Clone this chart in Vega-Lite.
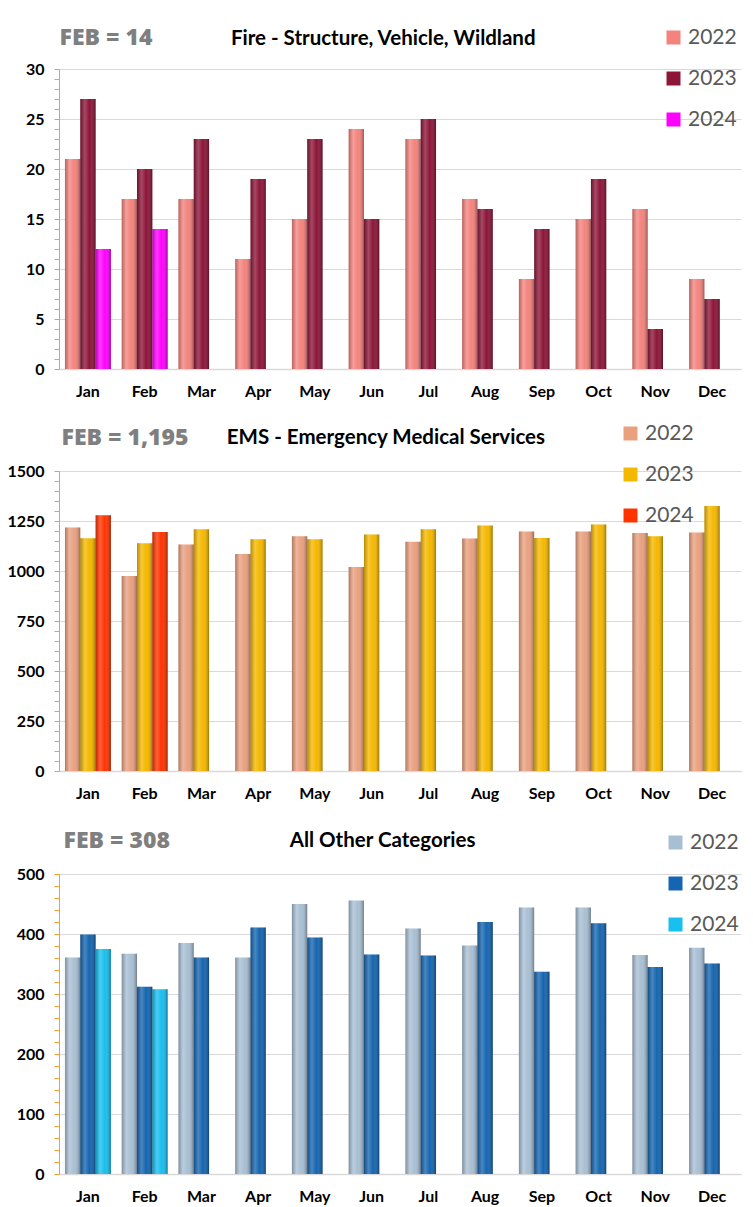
{
  "$schema": "https://vega.github.io/schema/vega-lite/v6.json",
  "background": "white",
  "padding": {"left": 6, "top": 26, "right": 5, "bottom": 5},
  "datasets": {
    "fire": [
      {"month": "Jan", "year": "2022", "value": 21}, {"month": "Jan", "year": "2023", "value": 27}, {"month": "Jan", "year": "2024", "value": 12},
      {"month": "Feb", "year": "2022", "value": 17}, {"month": "Feb", "year": "2023", "value": 20}, {"month": "Feb", "year": "2024", "value": 14},
      {"month": "Mar", "year": "2022", "value": 17}, {"month": "Mar", "year": "2023", "value": 23},
      {"month": "Apr", "year": "2022", "value": 11}, {"month": "Apr", "year": "2023", "value": 19},
      {"month": "May", "year": "2022", "value": 15}, {"month": "May", "year": "2023", "value": 23},
      {"month": "Jun", "year": "2022", "value": 24}, {"month": "Jun", "year": "2023", "value": 15},
      {"month": "Jul", "year": "2022", "value": 23}, {"month": "Jul", "year": "2023", "value": 25},
      {"month": "Aug", "year": "2022", "value": 17}, {"month": "Aug", "year": "2023", "value": 16},
      {"month": "Sep", "year": "2022", "value": 9}, {"month": "Sep", "year": "2023", "value": 14},
      {"month": "Oct", "year": "2022", "value": 15}, {"month": "Oct", "year": "2023", "value": 19},
      {"month": "Nov", "year": "2022", "value": 16}, {"month": "Nov", "year": "2023", "value": 4},
      {"month": "Dec", "year": "2022", "value": 9}, {"month": "Dec", "year": "2023", "value": 7}
    ],
    "ems": [
      {"month": "Jan", "year": "2022", "value": 1218}, {"month": "Jan", "year": "2023", "value": 1164}, {"month": "Jan", "year": "2024", "value": 1279},
      {"month": "Feb", "year": "2022", "value": 975}, {"month": "Feb", "year": "2023", "value": 1139}, {"month": "Feb", "year": "2024", "value": 1195},
      {"month": "Mar", "year": "2022", "value": 1132}, {"month": "Mar", "year": "2023", "value": 1209},
      {"month": "Apr", "year": "2022", "value": 1085}, {"month": "Apr", "year": "2023", "value": 1159},
      {"month": "May", "year": "2022", "value": 1174}, {"month": "May", "year": "2023", "value": 1159},
      {"month": "Jun", "year": "2022", "value": 1020}, {"month": "Jun", "year": "2023", "value": 1183},
      {"month": "Jul", "year": "2022", "value": 1146}, {"month": "Jul", "year": "2023", "value": 1209},
      {"month": "Aug", "year": "2022", "value": 1163}, {"month": "Aug", "year": "2023", "value": 1228},
      {"month": "Sep", "year": "2022", "value": 1197}, {"month": "Sep", "year": "2023", "value": 1165},
      {"month": "Oct", "year": "2022", "value": 1197}, {"month": "Oct", "year": "2023", "value": 1233},
      {"month": "Nov", "year": "2022", "value": 1190}, {"month": "Nov", "year": "2023", "value": 1174},
      {"month": "Dec", "year": "2022", "value": 1192}, {"month": "Dec", "year": "2023", "value": 1325}
    ],
    "other": [
      {"month": "Jan", "year": "2022", "value": 361}, {"month": "Jan", "year": "2023", "value": 399}, {"month": "Jan", "year": "2024", "value": 375},
      {"month": "Feb", "year": "2022", "value": 367}, {"month": "Feb", "year": "2023", "value": 312}, {"month": "Feb", "year": "2024", "value": 308},
      {"month": "Mar", "year": "2022", "value": 385}, {"month": "Mar", "year": "2023", "value": 361},
      {"month": "Apr", "year": "2022", "value": 361}, {"month": "Apr", "year": "2023", "value": 411},
      {"month": "May", "year": "2022", "value": 450}, {"month": "May", "year": "2023", "value": 394},
      {"month": "Jun", "year": "2022", "value": 456}, {"month": "Jun", "year": "2023", "value": 366},
      {"month": "Jul", "year": "2022", "value": 409}, {"month": "Jul", "year": "2023", "value": 364},
      {"month": "Aug", "year": "2022", "value": 381}, {"month": "Aug", "year": "2023", "value": 420},
      {"month": "Sep", "year": "2022", "value": 444}, {"month": "Sep", "year": "2023", "value": 337},
      {"month": "Oct", "year": "2022", "value": 444}, {"month": "Oct", "year": "2023", "value": 418},
      {"month": "Nov", "year": "2022", "value": 365}, {"month": "Nov", "year": "2023", "value": 345},
      {"month": "Dec", "year": "2022", "value": 377}, {"month": "Dec", "year": "2023", "value": 351}
    ]
  },
  "config": {
    "view": {"stroke": null},
    "axis": {
      "labelFont": "Lato", "labelFontWeight": "bold", "labelFontSize": 16, "labelColor": "#000000",
      "gridColor": "#d9d9d9", "gridWidth": 1
    },
    "axisX": {"ticks": false, "domainColor": "#d9d9d9", "domainWidth": 1.5, "labelPadding": 14, "labelAngle": 0, "grid": false},
    "axisY": {"domainColor": "#f0a030", "tickColor": "#f0a030", "tickSize": 5, "labelPadding": 10, "labelOverlap": false,
      "titleAngle": 0, "titleAlign": "left", "titleBaseline": "middle", "titleFont": "Open Sans", "titleFontSize": 23,
      "titleFontWeight": 800, "titleColor": "#7f7f7f"},
    "legend": {
      "orient": "none", "direction": "vertical", "title": null, "symbolType": "square", "symbolSize": 196,
      "symbolStrokeWidth": 0, "labelFont": "Lato", "labelFontSize": 21, "labelFontWeight": "normal", "labelColor": "#595959",
      "rowPadding": 19, "labelOffset": 4, "padding": 0
    },
    "title": {"font": "Lato", "fontSize": 20.5, "fontWeight": "bold", "color": "#000000", "anchor": "middle", "frame": "bounds"}
  },
  "vconcat": [
    {
      "width": 682, "height": 300,
      "title": {"text": "Fire - Structure, Vehicle, Wildland", "offset": -23},
      "data": {"name": "fire"},
      "encoding": {
        "x": {"field": "month", "type": "nominal", "title": null, "sort": ["Jan","Feb","Mar","Apr","May","Jun","Jul","Aug","Sep","Oct","Nov","Dec"],
          "scale": {"paddingInner": 0.19, "paddingOuter": 0.105}},
        "xOffset": {"field": "year", "type": "nominal", "scale": {"domain": ["2022","2023","2024"], "paddingInner": 0, "paddingOuter": 0}},
        "y": {"field": "value", "type": "quantitative", "scale": {"domain": [0, 30], "nice": false},
          "axis": {"values": [0,1,2,3,4,5,6,7,8,9,10,11,12,13,14,15,16,17,18,19,20,21,22,23,24,25,26,27,28,29,30],
            "labelExpr": "datum.value % 5 === 0 ? datum.label : ''",
            "gridOpacity": {"condition": {"test": "datum.value % 5 === 0", "value": 1}, "value": 0},
            "title": "FEB = 14", "titleX": 0, "titleY": -32}}
      },
      "layer": [
        {"mark": {"type": "bar"},
          "encoding": {"color": {"field": "year", "type": "nominal",
            "scale": {"domain": ["2022","2023","2024"], "range": ["#f4837d", "#8c1538", "#ff00ff"]},
            "legend": {"legendX": 604, "legendY": -42}}}},
        {"mark": {"type": "bar", "fill": {"gradient": "linear", "x1": 0, "y1": 0, "x2": 1, "y2": 0,
          "stops": [{"offset": 0, "color": "rgba(0,0,0,0.25)"}, {"offset": 0.3, "color": "rgba(255,255,255,0.22)"},
                    {"offset": 0.6, "color": "rgba(255,255,255,0)"}, {"offset": 1, "color": "rgba(0,0,0,0.35)"}]}},
          "encoding": {}}
      ]
    },
    {
      "width": 682, "height": 300,
      "title": {"text": "EMS - Emergency Medical Services", "offset": -25, "dx": 12},
      "data": {"name": "ems"},
      "encoding": {
        "x": {"field": "month", "type": "nominal", "sort": ["Jan","Feb","Mar","Apr","May","Jun","Jul","Aug","Sep","Oct","Nov","Dec"],
          "scale": {"paddingInner": 0.19, "paddingOuter": 0.105},
          "axis": {"title": "\u00a0", "titleFontSize": 4, "titlePadding": 0}},
        "xOffset": {"field": "year", "type": "nominal", "scale": {"domain": ["2022","2023","2024"], "paddingInner": 0, "paddingOuter": 0}},
        "y": {"field": "value", "type": "quantitative", "scale": {"domain": [0, 1500], "nice": false},
          "axis": {"values": [0,50,100,150,200,250,300,350,400,450,500,550,600,650,700,750,800,850,900,950,1000,1050,1100,1150,1200,1250,1300,1350,1400,1450,1500],
            "format": "d",
            "labelExpr": "datum.value % 250 === 0 ? datum.label : ''",
            "gridOpacity": {"condition": {"test": "datum.value % 250 === 0", "value": 1}, "value": 0},
            "title": "FEB = 1,195", "titleX": 2, "titleY": -34}}
      },
      "layer": [
        {"mark": {"type": "bar"},
          "encoding": {"color": {"field": "year", "type": "nominal",
            "scale": {"domain": ["2022","2023","2024"], "range": ["#e9a07f", "#f5b800", "#ff3300"]},
            "legend": {"legendX": 561, "legendY": -48}}}},
        {"mark": {"type": "bar", "fill": {"gradient": "linear", "x1": 0, "y1": 0, "x2": 1, "y2": 0,
          "stops": [{"offset": 0, "color": "rgba(0,0,0,0.25)"}, {"offset": 0.3, "color": "rgba(255,255,255,0.22)"},
                    {"offset": 0.6, "color": "rgba(255,255,255,0)"}, {"offset": 1, "color": "rgba(0,0,0,0.35)"}]}},
          "encoding": {}}
      ]
    },
    {
      "width": 682, "height": 300,
      "title": {"text": "All Other Categories", "offset": -22, "dx": 4},
      "data": {"name": "other"},
      "encoding": {
        "x": {"field": "month", "type": "nominal", "title": null, "sort": ["Jan","Feb","Mar","Apr","May","Jun","Jul","Aug","Sep","Oct","Nov","Dec"],
          "scale": {"paddingInner": 0.19, "paddingOuter": 0.105}},
        "xOffset": {"field": "year", "type": "nominal", "scale": {"domain": ["2022","2023","2024"], "paddingInner": 0, "paddingOuter": 0}},
        "y": {"field": "value", "type": "quantitative", "scale": {"domain": [0, 500], "nice": false},
          "axis": {"values": [0,20,40,60,80,100,120,140,160,180,200,220,240,260,280,300,320,340,360,380,400,420,440,460,480,500],
            "labelExpr": "datum.value % 100 === 0 ? datum.label : ''",
            "gridOpacity": {"condition": {"test": "datum.value % 100 === 0", "value": 1}, "value": 0},
            "title": "FEB = 308", "titleX": 4, "titleY": -34}}
      },
      "layer": [
        {"mark": {"type": "bar"},
          "encoding": {"color": {"field": "year", "type": "nominal",
            "scale": {"domain": ["2022","2023","2024"], "range": ["#a8bfd3", "#1565b0", "#18bfef"]},
            "legend": {"legendX": 606, "legendY": -42}}}},
        {"mark": {"type": "bar", "fill": {"gradient": "linear", "x1": 0, "y1": 0, "x2": 1, "y2": 0,
          "stops": [{"offset": 0, "color": "rgba(0,0,0,0.25)"}, {"offset": 0.3, "color": "rgba(255,255,255,0.22)"},
                    {"offset": 0.6, "color": "rgba(255,255,255,0)"}, {"offset": 1, "color": "rgba(0,0,0,0.35)"}]}},
          "encoding": {}}
      ]
    }
  ],
  "spacing": 24,
  "resolve": {"scale": {"color": "independent", "y": "independent", "x": "independent", "xOffset": "independent"}, "legend": {"color": "independent"}}
}
